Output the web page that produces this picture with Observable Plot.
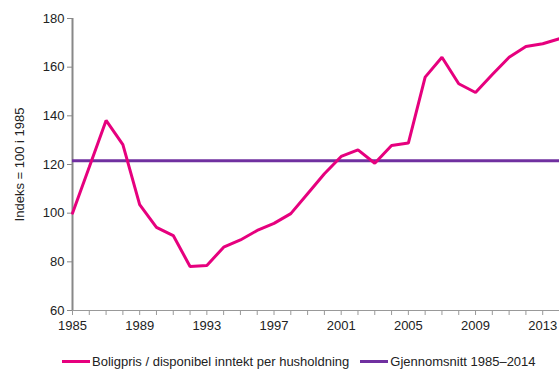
<!DOCTYPE html>
<html>
<head>
<meta charset="utf-8">
<script src="https://cdn.jsdelivr.net/npm/d3@7"></script>
<script src="https://cdn.jsdelivr.net/npm/@observablehq/plot@0.6"></script>
<style>
  html, body { margin: 0; padding: 0; background: #fff; }
  body { width: 559px; height: 371px; overflow: hidden; font-family: "Liberation Sans", Arial, sans-serif; }
  #legend { display: flex; align-items: center; margin-top: 18px; padding-left: 62px; font-size: 13px; color: #222; height: 16px; white-space: nowrap; }
  .item { display: flex; align-items: center; }
  .swatch { width: 28px; height: 3px; margin-right: 2px; }
</style>
</head>
<body>
<div id="chart"></div>
<div id="legend"></div>
<script>
// House price relative to disposable income per household, index 1985 = 100
const years = d3.range(1985, 2015);
const ratio = [100, 119, 138.1, 128.2, 103.5, 94.2, 90.8, 78.1, 78.5, 86,
               89, 92.9, 95.8, 99.8, 108, 116.2, 123.3, 126, 120.5, 127.8,
               128.8, 155.9, 164.1, 153.2, 149.6, 157, 164.1, 168.5, 169.6, 171.7];
const average = 121.5;
const yTicks = [60, 80, 100, 120, 140, 160, 180];
const xLabels = [1985, 1989, 1993, 1997, 2001, 2005, 2009, 2013];
const seriesNames = ["Boligpris / disponibel inntekt per husholdning", "Gjennomsnitt 1985–2014"];
const colors = ["#e6007e", "#7030a0"];

const data = years.map((year, i) => ({year, value: ratio[i]}));

const chart = Plot.plot({
  width: 559,
  height: 335,
  marginLeft: 72,
  marginRight: 0,
  marginTop: 18,
  marginBottom: 25,
  style: {fontFamily: "'Liberation Sans', Arial, sans-serif", fontSize: "13px", color: "#222", background: "#fff"},
  x: {domain: [1985, 2014]},
  y: {domain: [60, 180]},
  marks: [
    Plot.axisY({ticks: yTicks, tickSize: 5, tickPadding: 3, stroke: "#888",
      label: "Indeks = 100 i 1985", labelAnchor: "center", labelArrow: "none", labelOffset: 58}),
    Plot.axisX({ticks: years, tickSize: 5, tickFormat: () => "", stroke: "#999", label: null}),
    Plot.axisX({ticks: xLabels, tickSize: 0, tickPadding: 10, tickFormat: d => String(d), label: null}),
    Plot.ruleX([1985], {stroke: "#888", strokeWidth: 2}),
    Plot.ruleY([60], {stroke: "#999", strokeWidth: 1}),
    Plot.ruleY([average], {stroke: colors[1], strokeWidth: 3}),
    Plot.line(data, {x: "year", y: "value", stroke: colors[0], strokeWidth: 3, strokeLinejoin: "miter"})
  ]
});
document.getElementById("chart").append(chart);

const legend = document.getElementById("legend");
seriesNames.forEach((name, i) => {
  const item = document.createElement("div");
  item.className = "item";
  if (i > 0) item.style.marginLeft = "11px";
  const sw = document.createElement("span");
  sw.className = "swatch";
  sw.style.background = colors[i];
  const label = document.createElement("span");
  label.textContent = name;
  item.append(sw, label);
  legend.append(item);
});
</script>
</body>
</html>
